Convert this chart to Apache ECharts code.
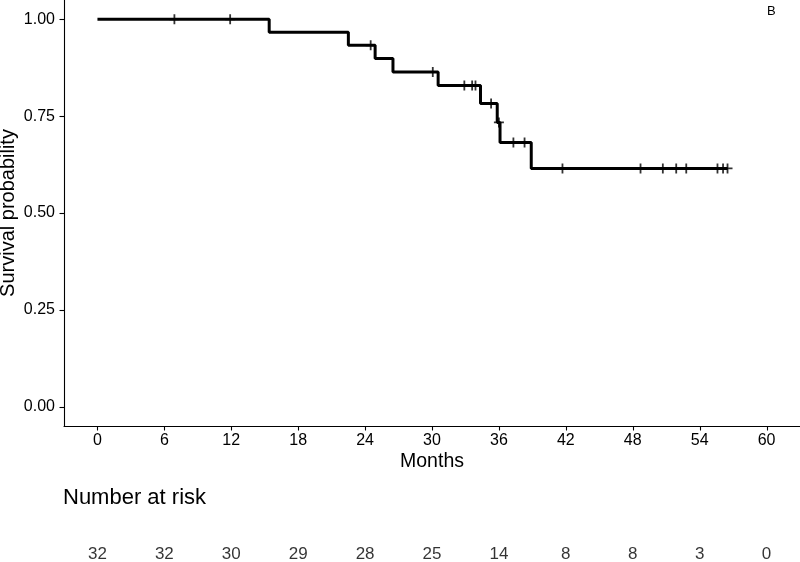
<!DOCTYPE html>
<html>
<head>
<meta charset="utf-8">
<script src="https://cdn.jsdelivr.net/npm/echarts@6/dist/echarts.min.js"></script>
<style>html,body{margin:0;padding:0;background:#fff}#c{width:800px;height:562px}</style>
</head>
<body>
<div id="c"></div>
<script>
// Kaplan-Meier step points (time in months, survival probability)
var stepTimes = [0, 15.4, 22.5, 24.9, 26.5, 30.55, 34.35, 35.85, 36.1, 38.9, 56.5];
var stepSurv  = [1.0, 0.967, 0.933, 0.899, 0.864, 0.829, 0.783, 0.734, 0.682, 0.615, 0.615];
// Censored observations
var censorTimes = [6.9, 11.9, 24.5, 30.07, 32.9, 33.6, 33.9, 35.3, 36.0, 37.3, 38.3, 41.7, 48.7, 50.7, 51.9, 52.8, 55.6, 56.1, 56.5];
var censorSurv  = [1.0, 1.0, 0.933, 0.864, 0.829, 0.829, 0.829, 0.783, 0.734, 0.682, 0.682, 0.615, 0.615, 0.615, 0.615, 0.615, 0.615, 0.615, 0.615];
// Axis ticks
var xTicks = [0, 6, 12, 18, 24, 30, 36, 42, 48, 54, 60];
var yTicks = [0, 0.25, 0.5, 0.75, 1.0];
// Number at risk at each x tick
var riskCounts = [32, 32, 30, 29, 28, 25, 14, 8, 8, 3, 0];

var X_MIN = -3, X_MAX = 63, Y_MIN = -0.05, Y_MAX = 1.05;
var FONT = '"Liberation Sans", Arial, sans-serif';
var chart = echarts.init(document.getElementById('c'), null, {renderer: 'canvas'});

var kmData = stepTimes.map(function (t, i) { return [t, stepSurv[i]]; });
var censorData = censorTimes.map(function (t, i) { return [t, censorSurv[i]]; });
var riskData = xTicks.map(function (t, i) { return [t, 0, riskCounts[i]]; });
var xTickData = xTicks.map(function (t) { return [t, Y_MIN]; });
var yTickData = yTicks.map(function (v) { return [X_MIN, v]; });

var plus = 'path://M4.1,0H5.9V4.1H10V5.9H5.9V10H4.1V5.9H0V4.1H4.1Z';

function tickRenderer(dir) {
  return function (params, api) {
    var p = api.coord([api.value(0), api.value(1)]);
    var x = Math.round(p[0]) + 0.5, y = Math.round(p[1]);
    var shape = dir === 'x' ? {x1: x, y1: y, x2: x, y2: y + 4.5}
                            : {x1: Math.round(p[0]), y1: y + 0.5, x2: Math.round(p[0]) - 4.5, y2: y + 0.5};
    return {type: 'line', shape: shape, style: {stroke: '#000', lineWidth: 1.1}};
  };
}

chart.setOption({
  animation: false,
  backgroundColor: '#fff',
  textStyle: {fontFamily: FONT},
  title: [
    {text: 'Number at risk', left: 63, top: 487, padding: 0,
     textStyle: {fontFamily: FONT, fontSize: 22, fontWeight: 'normal', color: '#000'}},
    {text: 'B', left: 767, top: 5, padding: 0,
     textStyle: {fontFamily: FONT, fontSize: 13, fontWeight: 'normal', color: '#000'}}
  ],
  grid: [
    {left: 64, right: 0, top: 0, bottom: 136, containLabel: false, outerBoundsMode: 'none'},
    {left: 64, right: 0, top: 540, height: 28, containLabel: false, outerBoundsMode: 'none'}
  ],
  xAxis: [
    {type: 'value', gridIndex: 0, min: X_MIN, max: X_MAX,
     name: 'Months', nameLocation: 'middle', nameGap: 26, nameMoveOverlap: false,
     nameTextStyle: {fontFamily: FONT, fontSize: 19.5, color: '#000'},
     axisLine: {show: true, onZero: false, lineStyle: {color: '#000', width: 1.1}},
     axisTick: {show: false},
     axisLabel: {fontFamily: FONT, fontSize: 16, color: '#000', margin: 7, customValues: xTicks, hideOverlap: false},
     splitLine: {show: false}},
    {type: 'value', gridIndex: 1, min: X_MIN, max: X_MAX, show: false}
  ],
  yAxis: [
    {type: 'value', gridIndex: 0, min: Y_MIN, max: Y_MAX,
     name: 'Survival probability', nameLocation: 'middle', nameGap: 46, nameRotate: 90, nameMoveOverlap: false,
     nameTextStyle: {fontFamily: FONT, fontSize: 20, color: '#000'},
     axisLine: {show: true, onZero: false, lineStyle: {color: '#000', width: 1.1}},
     axisTick: {show: false},
     axisLabel: {fontFamily: FONT, fontSize: 16, color: '#000', margin: 9, customValues: yTicks,
                 formatter: function (v) { return v.toFixed(2); }},
     splitLine: {show: false}},
    {type: 'value', gridIndex: 1, min: -1, max: 1, show: false}
  ],
  series: [
    {type: 'custom', xAxisIndex: 0, yAxisIndex: 0, data: xTickData, clip: false, silent: true,
     renderItem: tickRenderer('x')},
    {type: 'custom', xAxisIndex: 0, yAxisIndex: 0, data: yTickData, clip: false, silent: true,
     renderItem: tickRenderer('y')},
    {type: 'line', xAxisIndex: 0, yAxisIndex: 0, data: kmData, step: 'end',
     symbol: 'none', lineStyle: {color: '#000', width: 3}, silent: true},
    {type: 'scatter', xAxisIndex: 0, yAxisIndex: 0, data: censorData,
     symbol: plus, symbolSize: 10, itemStyle: {color: '#000'}, silent: true},
    {type: 'scatter', xAxisIndex: 1, yAxisIndex: 1, data: riskData,
     symbolSize: 1, itemStyle: {color: 'rgba(0,0,0,0)'}, silent: true,
     label: {show: true, position: 'inside', fontFamily: FONT, fontSize: 17, color: '#000',
             formatter: function (p) { return String(p.value[2]); }}}
  ]
});
</script>
</body>
</html>
